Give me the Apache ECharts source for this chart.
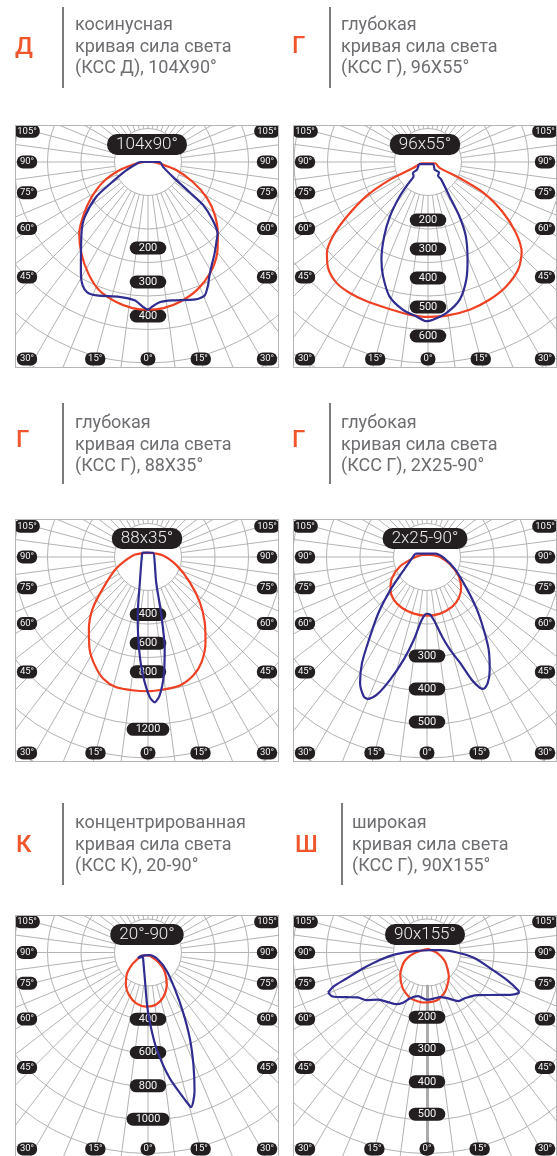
<!DOCTYPE html>
<html>
<head>
<meta charset="utf-8">
<script src="https://cdn.jsdelivr.net/npm/echarts@6/dist/echarts.min.js"></script>
<style>
  body { margin: 0; background: #fff; }
  #page { position: relative; width: 557px; height: 1156px; overflow: hidden; }
  .chart { position: absolute; }
  .frame { position: absolute; border: 1px solid #b5b5b5; box-sizing: border-box; pointer-events: none; }
</style>
</head>
<body>
<div id="page">
  <div id="head" class="chart" style="left:0;top:0;width:557px;height:1156px"></div>
</div>
<script>
// curves: [angle from nadir (deg, + = right), intensity (cd)]
const ksdRed = [[-90, 10], [-82, 30], [-74, 74], [-66, 124], [-58, 168], [-51, 208], [-44, 250], [-36, 286], [-28, 320], [-21, 346], [-13, 362], [-6, 371], [0, 373], [6, 371], [13, 362], [21, 346], [29, 322], [37, 290], [44, 254], [52, 213], [59, 172], [66, 124], [74, 74], [82, 30], [90, 10]]
const ksdBlue = [[-90, 21], [-69, 59], [-60, 111], [-56, 158], [-49, 212], [-44, 241], [-36, 288], [-31, 329], [-28, 352], [-25, 363], [-21, 361], [-12, 348], [-5.5, 351], [-2, 366], [0, 373], [1.5, 366], [5, 355], [10, 355], [19, 367], [23, 366], [26, 346], [28, 329], [31, 310], [36, 286], [41, 264], [44, 253], [48, 220], [52, 177], [54, 130], [59, 74], [72, 40], [90, 30]]

const deepRed = [[-80, 25], [-68, 56], [-65, 146], [-61, 243], [-56, 338], [-52, 416], [-48, 469], [-43, 504], [-37, 523], [-31, 526], [-24, 525], [-15, 524], [-7, 530], [0, 534], [7, 534], [16, 529], [24, 520], [32, 507], [40, 484], [46, 449], [51, 391], [56, 313], [61, 218], [63, 122], [63, 45], [80, 25]]
const deepBlue = [[-77, 32], [-55, 46], [-54, 64], [-45, 70], [-43, 92], [-39.5, 153], [-35, 229], [-30.5, 298], [-25.5, 373], [-21.5, 423], [-16, 482], [-9.6, 517], [-4.3, 534], [-0.6, 549], [1.8, 544], [7, 524], [13, 487], [18, 427], [22, 364], [27, 287], [30, 217], [32, 140], [37, 76], [36, 59], [47, 52], [41, 35], [68, 19]]

const narrowRed = [[180, 30], [-96, 105], [-70, 236], [-55, 384], [-47, 527], [-39.5, 647], [-32.5, 758], [-26, 842], [-20, 905], [-14, 933], [-6, 935], [0, 935], [6.5, 929], [14, 922], [21, 883], [27, 822], [34, 716], [41, 602], [49, 478], [59, 339], [74, 206], [96, 105], [180, 30]]
const narrowBlue = [[-127, 50], [-53, 58], [-18, 183], [-10, 413], [-5.6, 642], [-2.4, 826], [0.7, 976], [2.6, 1013], [4.8, 968], [7.6, 832], [10.3, 650], [12.9, 417], [18, 183], [53, 58], [130, 46]]

const batRed = [[180, 7], [-104, 21], [-86, 41], [-71, 86], [-59, 124], [-48, 149], [-38, 164], [-26, 172], [-13, 176], [0, 178], [13, 176], [27, 169], [38, 157], [48, 139], [59, 112], [72, 74], [90, 40], [103, 23], [180, 7]]
const batBlue = [[-106, 37], [-61, 80], [-48, 149], [-41, 224], [-35, 307], [-31.5, 377], [-28, 432], [-24.4, 464], [-22.7, 466], [-20, 444], [-16.7, 388], [-12.8, 319], [-9, 254], [-5.8, 201], [-3.2, 180], [-0.7, 172], [3.3, 175], [7.2, 201], [10.7, 245], [14, 290], [17.4, 337], [20, 396], [22, 428], [23.2, 435], [25.7, 424], [29, 392], [33.6, 338], [38, 279], [43.5, 220], [51, 157], [66, 94], [87, 51], [112, 27]]

const conRed = [[-64, 45], [-30, 20], [27, 22], [37.5, 32], [47, 82], [41, 153], [30, 226], [19.5, 281], [9, 316], [-2, 325], [-13, 313], [-24, 280], [-34, 237], [-45, 178], [-54, 111], [-64, 45]]
const conBlue = [[-49, 40], [-7, 157], [-1, 316], [1.4, 415], [5, 577], [9.8, 766], [14.4, 923], [15.6, 963], [18.5, 880], [22, 728], [26, 572], [30.5, 413], [36.6, 268], [46, 153], [55, 73], [32, 19], [-64, 45], [-62, 68], [-49, 40]]

const wideRed = [[180, 11], [-86, 41], [-68, 76], [-50, 108], [-34, 134], [-20, 150], [-4, 155], [12, 151], [25, 133], [42, 101], [63, 63], [88, 31], [129, 13], [180, 11]]
const wideBlue = [[-68, 330], [-70, 308], [-72, 263], [-76, 204], [-81, 148], [-87, 95], [-99, 33], [130, 11], [100, 42], [90, 93], [83.5, 146], [76, 202], [71, 262], [67.5, 305], [66.4, 310], [63, 289], [56, 235], [49.5, 203], [40, 184], [33, 179], [29, 168], [23.6, 154], [16.6, 144], [8.3, 144], [0, 146], [-11.6, 138], [-20.6, 152], [-25.5, 172], [-30.7, 186], [-38, 195], [-46, 210], [-52, 239], [-57, 255], [-61, 285], [-65, 322]]

// ring labels (cd) and angle labels (deg)
const ksdRings = [200, 300, 400]
const deepRings = [200, 300, 400, 500, 600]
const narrowRings = [400, 600, 800, 1200]
const batRings = [300, 400, 500]
const conRings = [400, 600, 800, 1000]
const wideRings = [200, 300, 400, 500]
const angleTicks = [105, 90, 75, 60, 45, 30, 15, 0]

const titles = ['104x90°', '96x55°', '88x35°', '2x25-90°', '20°-90°', '90x155°']
const letters = ['Д', 'Г', 'Г', 'Г', 'К', 'Ш']
const captions = [
  ['косинусная', 'кривая сила света', '(КСС Д), 104Х90°'],
  ['глубокая', 'кривая сила света', '(КСС Г), 96Х55°'],
  ['глубокая', 'кривая сила света', '(КСС Г), 88Х35°'],
  ['глубокая', 'кривая сила света', '(КСС Г), 2Х25-90°'],
  ['концентрированная', 'кривая сила света', '(КСС К), 20-90°'],
  ['широкая', 'кривая сила света', '(КСС Г), 90Х155°']
]

const RING = 33.5
const W = 264
const H = 243
const GRID = '#b3b3b3'
const RED = '#ef4123'
const BLUE = '#312d90'
const BADGE = '#231f20'
const FONT = 'Roboto, "Noto Sans", sans-serif'

const panels = [
  { left: 15, top: 125, cx: 133, cy: 37, red: ksdRed, blue: ksdBlue, rings: ksdRings, max: 500, radius: 198, labelMin: -53, labelRadius: 188 },
  { left: 293, top: 125, cx: 135, cy: 37, red: deepRed, blue: deepBlue, rings: deepRings, max: 700, radius: 203 },
  { left: 15, top: 519, cx: 133, cy: 38, red: narrowRed, blue: narrowBlue, rings: narrowRings, max: 1400, radius: 201 },
  { left: 293, top: 519, cx: 134, cy: 38, red: batRed, blue: batBlue, rings: batRings, max: 600, radius: 198 },
  { left: 15, top: 915, cx: 133, cy: 37.5, red: conRed, blue: conBlue, rings: conRings, max: 1200, radius: 200 },
  { left: 293, top: 915, cx: 134, cy: 37.5, red: wideRed, blue: wideBlue, rings: wideRings, max: 600, radius: 194, nadirLine: true }
]

const heads = [
  { lx: 15, ly: 48, bar: 63, tx: 75, ty: 47, y0: 7, y1: 88 },
  { lx: 292, ly: 47, bar: 330, tx: 341, ty: 47, y0: 7, y1: 88 },
  { lx: 16, ly: 441, bar: 63, tx: 75, ty: 445, y0: 403, y1: 484 },
  { lx: 292, ly: 441, bar: 330, tx: 341, ty: 445, y0: 403, y1: 484 },
  { lx: 16, ly: 846, bar: 63, tx: 75, ty: 845, y0: 803, y1: 885 },
  { lx: 295, ly: 846, bar: 342, tx: 352, ty: 845, y0: 803, y1: 885 }
]

function toPolar(pts) {
  return pts.concat([pts[0]]).map(([a, v]) => [v, a])
}

function edgeLabels(p) {
  const inset = 12
  const side = 115
  const bottom = H - 9
  const down = bottom - p.cy
  const out = []
  angleTicks.forEach((a) => {
    const t = Math.tan((a * Math.PI) / 180)
    let xs
    let y
    if (a >= 45) {
      y = p.cy + side / t
      xs = [inset, W - inset]
    } else {
      y = bottom
      const dx = down * t
      xs = dx > 100 ? [inset, W - inset] : dx < 1 ? [p.cx] : [p.cx - dx, p.cx + dx]
    }
    xs.forEach((x) => {
      out.push({
        type: 'text', x, y, z: 20, silent: true,
        style: {
          text: a + '°', fill: '#f4f4f4', fontSize: 9.5, fontFamily: FONT,
          align: 'center', verticalAlign: 'middle',
          backgroundColor: BADGE, borderRadius: 6, padding: [2, 3, 1, 3]
        }
      })
    })
  })
  return out
}

function hiddenAngle(polarIndex) {
  return { polarIndex, type: 'value', min: -180, max: 180, startAngle: 90, clockwise: false, show: false }
}

function panelOption(p, i) {
  const center = [p.cx, p.cy]
  const labelMin = p.labelMin ?? 0
  return {
    animation: false,
    backgroundColor: '#fff',
    title: {
      text: titles[i], left: 'center', top: 9,
      backgroundColor: BADGE, borderRadius: 10, padding: [1, 9],
      textStyle: { color: '#ededed', fontSize: 17, fontWeight: 300, fontFamily: FONT, lineHeight: 19 }
    },
    polar: [
      { center, radius: [RING, RING * 8] },
      { center, radius: [0, p.radius] },
      { center, radius: [0, p.labelRadius ?? p.radius] }
    ],
    angleAxis: [
      {
        polarIndex: 0, type: 'value', min: 0, max: 360, interval: 7.5, startAngle: -90,
        axisLine: { show: false }, axisTick: { show: false }, axisLabel: { show: false },
        splitLine: { show: true, lineStyle: { color: GRID, width: 1 } }
      },
      hiddenAngle(1),
      hiddenAngle(2)
    ],
    radiusAxis: [
      {
        polarIndex: 0, type: 'value', min: 1, max: 8, interval: 1,
        axisLine: { show: !!p.nadirLine, lineStyle: { color: '#ababab', width: 3 } },
        axisTick: { show: false }, axisLabel: { show: false },
        splitLine: { show: true, lineStyle: { color: GRID, width: 1 } }
      },
      { polarIndex: 1, type: 'value', min: 0, max: p.max, show: false },
      { polarIndex: 2, type: 'value', min: labelMin, max: p.max, show: false }
    ],
    series: [
      {
        type: 'scatter', coordinateSystem: 'polar', polarIndex: 2, z: 2, silent: true,
        data: p.rings.map((v) => [v, 0]),
        symbolSize: 1, itemStyle: { color: BADGE, opacity: 1 },
        label: {
          show: true, position: 'inside', formatter: (d) => String(d.value[0]), opacity: 1,
          backgroundColor: BADGE, color: '#f4f4f4', borderRadius: 7, padding: [1, 9, 0, 9],
          fontSize: 11, fontFamily: FONT, lineHeight: 12
        }
      },
      {
        type: 'line', coordinateSystem: 'polar', polarIndex: 1, z: 3, silent: true,
        data: toPolar(p.red), showSymbol: false, smooth: 0.25,
        lineStyle: { color: RED, width: 2.2 }
      },
      {
        type: 'line', coordinateSystem: 'polar', polarIndex: 1, z: 4, silent: true,
        data: toPolar(p.blue), showSymbol: false, smooth: 0.25,
        lineStyle: { color: BLUE, width: 2.2 }
      }
    ],
    graphic: edgeLabels(p)
  }
}

const page = document.getElementById('page')
panels.forEach((p, i) => {
  const box = document.createElement('div')
  box.className = 'chart'
  box.style.cssText = `left:${p.left}px;top:${p.top}px;width:${W}px;height:${H}px`
  page.appendChild(box)
  const frame = document.createElement('div')
  frame.className = 'frame'
  frame.style.cssText = `left:${p.left}px;top:${p.top}px;width:${W}px;height:${H}px`
  page.appendChild(frame)
  echarts.init(box).setOption(panelOption(p, i))
})

const headGraphics = []
heads.forEach((h, i) => {
  headGraphics.push({
    type: 'text', x: h.lx, y: h.ly, silent: true,
    style: { text: letters[i], fill: '#f0552b', fontSize: 24, fontWeight: 500, fontFamily: FONT, verticalAlign: 'middle' }
  })
  headGraphics.push({
    type: 'line', silent: true,
    shape: { x1: h.bar, y1: h.y0, x2: h.bar, y2: h.y1 },
    style: { stroke: '#7b7b7b', lineWidth: 2 }
  })
  headGraphics.push({
    type: 'text', x: h.tx, y: h.ty, silent: true,
    style: {
      text: captions[i].join('\n'), fill: '#6d6e71', fontSize: 18, fontFamily: FONT,
      lineHeight: 21.5, verticalAlign: 'middle'
    }
  })
})
echarts.init(document.getElementById('head')).setOption({ animation: false, graphic: headGraphics })
</script>
</body>
</html>
